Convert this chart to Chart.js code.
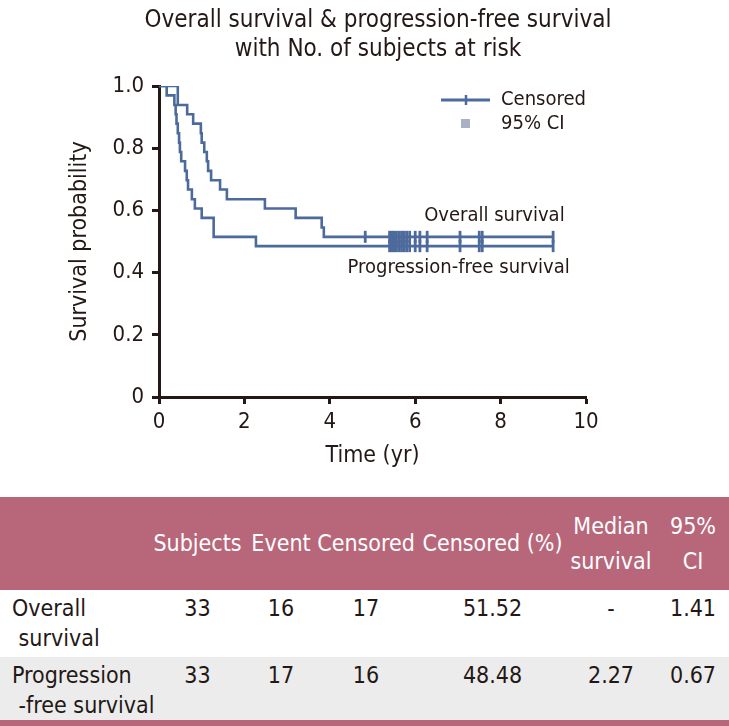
<!DOCTYPE html>
<html>
<head>
<meta charset="utf-8">
<script src="https://cdn.jsdelivr.net/npm/chart.js@4/dist/chart.umd.min.js"></script>
<style>
  html, body { margin: 0; padding: 0; background: #fff; }
  body { width: 729px; height: 726px; position: relative; overflow: hidden;
         font-family: "Liberation Sans Narrow", "DejaVu Sans Condensed", "Roboto", sans-serif; color: #231815; }
  #wrap { position: absolute; left: 0; top: 0; width: 729px; height: 490px; }
  table { position: absolute; left: 0; top: 497px; width: 729px; border-collapse: collapse; table-layout: fixed; font-size: 23px; }
  thead th { background: #b8677b; color: #fff; font-weight: normal; height: 93px; padding: 0; line-height: 35px; white-space: nowrap; }
  tbody td { padding: 0; vertical-align: top; line-height: 30px; white-space: nowrap; }
  tbody tr.r1 td { height: 64px; padding-top: 3px; }
  tbody tr.r2 td { background: #ececec; height: 60px; padding-top: 3px; }
  td.lab { padding-left: 12px; text-align: left; overflow: visible; }
  td.num, th { text-align: center; }
  .bar { position: absolute; left: 0; top: 720px; width: 729px; height: 6px; background: #b8677b; }
</style>
</head>
<body>
<div id="wrap"><canvas id="km" width="729" height="490"></canvas></div>
<table id="tbl">
  <colgroup><col style="width:145px"><col style="width:105px"><col style="width:62px"><col style="width:108px"><col style="width:145px"><col style="width:92px"><col style="width:72px"></colgroup>
  <thead><tr id="head"></tr></thead>
  <tbody id="body"></tbody>
</table>
<div class="bar"></div>
<script>
// Kaplan-Meier steps (time in years, survival probability)
const osTimes = [0, 0.44, 0.66, 0.80, 0.98, 1.00, 1.06, 1.12, 1.15, 1.22, 1.43, 1.59, 2.48, 3.20, 3.81, 3.86, 9.23];
const osSurv = [1, 0.939, 0.909, 0.879, 0.848, 0.818, 0.788, 0.758, 0.727, 0.697, 0.667, 0.636, 0.606, 0.576, 0.545, 0.515, 0.515];
const pfsTimes = [0, 0.18, 0.36, 0.39, 0.41, 0.44, 0.47, 0.49, 0.52, 0.61, 0.65, 0.68, 0.77, 0.84, 1.00, 1.28, 2.27, 9.23];
const pfsSurv = [1, 0.970, 0.939, 0.909, 0.879, 0.848, 0.818, 0.788, 0.758, 0.727, 0.697, 0.667, 0.636, 0.606, 0.576, 0.515, 0.485, 0.485];

// censoring ticks
const osCensor = [4.83, 5.40, 5.45, 5.50, 5.56, 5.62, 5.68, 5.74, 5.80, 5.87, 6.00, 6.11, 6.28, 7.05, 7.50, 7.57, 9.23];
const pfsCensor = [5.40, 5.45, 5.50, 5.56, 5.62, 5.68, 5.74, 5.80, 5.87, 6.00, 6.11, 6.28, 7.05, 7.50, 7.57, 9.23];
const osCensorLevel = 0.515;
const pfsCensorLevel = 0.485;

const xTicks = [0, 2, 4, 6, 8, 10];
const yTicks = [0, 0.2, 0.4, 0.6, 0.8, 1.0];

// summary table
const tableHead = ["", "Subjects", "Event", "Censored", "Censored (%)", "Median<br>survival", "95%<br>CI"];
const rowLabels = ["Overall<br>&nbsp;survival", "Progression<br>&nbsp;-free survival"];
const subjects = ["33", "33"];
const events = ["16", "17"];
const censored = ["17", "16"];
const censoredPct = ["51.52", "48.48"];
const medianSurv = ["-", "2.27"];
const ci95 = ["1.41", "0.67"];

const FONT = '"Liberation Sans Narrow", "DejaVu Sans Condensed", "Roboto", sans-serif';
const INK = "#231815";
const LINE = "#4d6a9d";

const pts = (xs, ys) => xs.map((x, i) => ({ x, y: ys[i] }));
const flat = (xs, lvl) => xs.map((x) => ({ x, y: lvl }));

const extras = {
  id: "extras",
  afterDraw(chart) {
    const { ctx, scales } = chart;
    const xs = scales.x, ys = scales.y;
    ctx.save();
    ctx.fillStyle = INK;
    ctx.textAlign = "center";
    ctx.textBaseline = "middle";
    ctx.font = `24px ${FONT}`;
    ctx.fillText("Overall survival & progression-free survival", 378, 21);
    ctx.fillText("with No. of subjects at risk", 378, 50);

    // legend
    ctx.strokeStyle = LINE;
    ctx.lineWidth = 3;
    ctx.beginPath(); ctx.moveTo(441, 100); ctx.lineTo(490, 100); ctx.stroke();
    ctx.lineWidth = 2.5;
    ctx.beginPath(); ctx.moveTo(466, 95); ctx.lineTo(466, 105); ctx.stroke();
    ctx.fillStyle = "#aab0c6";
    ctx.fillRect(461, 119, 9, 9);
    ctx.fillStyle = INK;
    ctx.textAlign = "left";
    ctx.font = `20px ${FONT}`;
    ctx.fillText("Censored", 501, 100);
    ctx.fillText("95% CI", 501, 124);

    // curve labels
    ctx.textAlign = "right";
    ctx.fillText("Overall survival", xs.getPixelForValue(9.5), ys.getPixelForValue(0.582));
    ctx.fillText("Progression-free survival", xs.getPixelForValue(9.62), ys.getPixelForValue(0.415));
    ctx.restore();
  },
};

const lineDs = (label, data) => ({ label, data, borderColor: LINE, borderWidth: 2.6, pointRadius: 0, stepped: true, fill: false, showLine: true });
const censorDs = (label, data) => ({ label, data, showLine: false, pointStyle: "line", rotation: 90, pointRadius: 6, borderColor: LINE, borderWidth: 2.8, backgroundColor: LINE });

new Chart(document.getElementById("km"), {
  type: "scatter",
  data: {
    datasets: [
      lineDs("Overall survival", pts(osTimes, osSurv)),
      lineDs("Progression-free survival", pts(pfsTimes, pfsSurv)),
      censorDs("OS censored", flat(osCensor, osCensorLevel)),
      censorDs("PFS censored", flat(pfsCensor, pfsCensorLevel)),
    ],
  },
  options: {
    responsive: false,
    animation: false,
    devicePixelRatio: 1,
    layout: { padding: { top: 86, right: 143, left: 0, bottom: 0 } },
    plugins: { legend: { display: false }, tooltip: { enabled: false }, title: { display: false } },
    scales: {
      x: {
        type: "linear", min: 0, max: 10,
        afterBuildTicks: (s) => { s.ticks = xTicks.map((v) => ({ value: v })); },
        afterFit: (s) => { s.height = 93; },
        ticks: { color: INK, font: { family: FONT, size: 22 }, padding: 5 },
        grid: { drawOnChartArea: false, tickLength: 7, tickWidth: 3, tickColor: INK },
        border: { display: true, width: 3, color: INK },
        title: { display: true, text: "Time (yr)", color: INK, font: { family: FONT, size: 23 }, padding: { top: 0, bottom: 20 } },
      },
      y: {
        min: 0, max: 1,
        afterBuildTicks: (s) => { s.ticks = yTicks.map((v) => ({ value: v })); },
        afterFit: (s) => { s.width = 159; },
        ticks: { color: INK, font: { family: FONT, size: 22 }, padding: 8, callback: (v) => (v === 0 ? "0" : v.toFixed(1)) },
        grid: { drawOnChartArea: false, tickLength: 7, tickWidth: 3, tickColor: INK },
        border: { display: true, width: 3, color: INK },
        title: { display: true, text: "Survival probability", color: INK, font: { family: FONT, size: 23 }, padding: { top: 66, bottom: 0 } },
      },
    },
  },
  plugins: [extras],
});

// table
document.getElementById("head").innerHTML = tableHead.map((h) => `<th>${h}</th>`).join("");
document.getElementById("body").innerHTML = rowLabels
  .map((lab, i) => `<tr class="r${i + 1}"><td class="lab">${lab}</td><td class="num">${subjects[i]}</td><td class="num">${events[i]}</td><td class="num">${censored[i]}</td><td class="num">${censoredPct[i]}</td><td class="num">${medianSurv[i]}</td><td class="num">${ci95[i]}</td></tr>`)
  .join("");
</script>
</body>
</html>
